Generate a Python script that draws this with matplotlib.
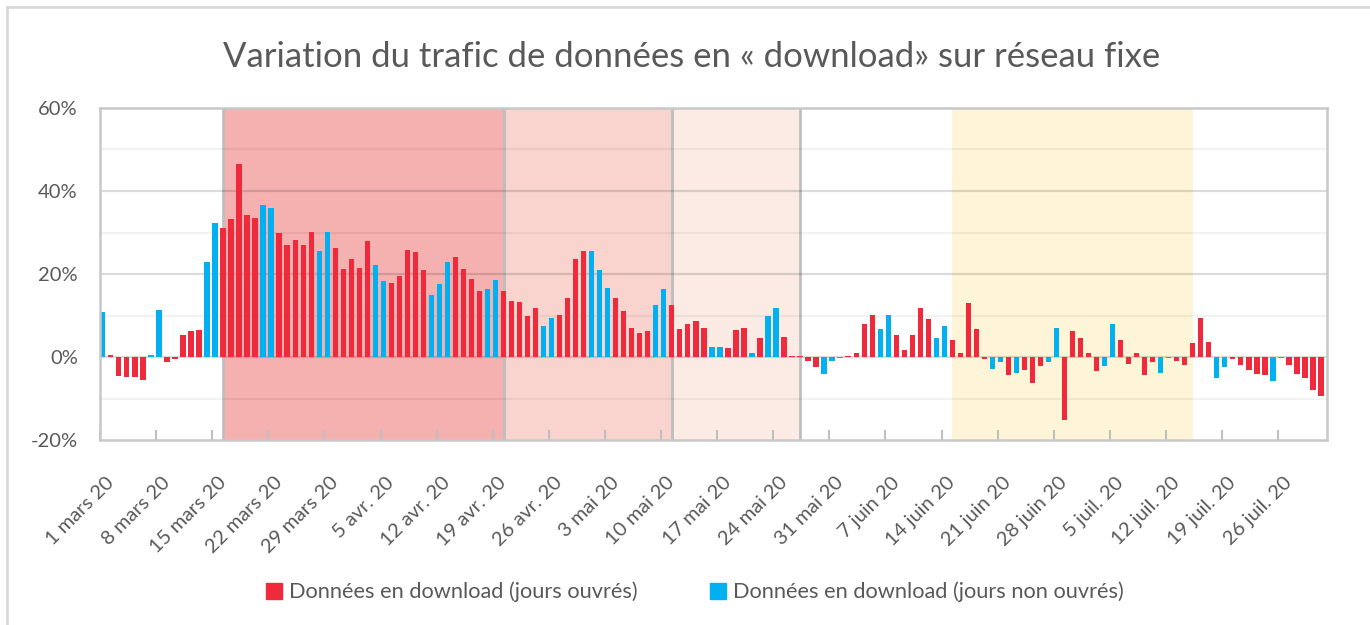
import matplotlib
matplotlib.use("Agg")
import matplotlib.pyplot as plt
import matplotlib.transforms as mtransforms
import numpy as np
import pandas as pd
from matplotlib.lines import Line2D

# ---------------- data ----------------
dates = pd.date_range("2020-03-01", "2020-07-31", freq="D")

values = [
    10.8, 0.6, -4.6, -4.9, -4.9, -5.5, 0.6, 11.4, -1.3, -0.6,
    5.4, 6.2, 6.5, 23.0, 32.3, 31.1, 33.3, 46.6, 34.2, 33.5,
    36.6, 36.0, 29.8, 27.0, 28.3, 27.0, 30.2, 25.5, 30.2, 26.2,
    21.2, 23.7, 21.5, 28.0, 22.2, 18.2, 17.8, 19.4, 25.8, 25.2,
    20.9, 15.0, 17.5, 23.0, 24.0, 21.2, 18.7, 16.0, 16.3, 18.5,
    16.0, 13.5, 13.2, 9.8, 11.7, 7.4, 9.5, 10.2, 14.2, 23.7,
    25.5, 25.5, 20.9, 16.6, 14.2, 11.0, 7.0, 5.8, 6.2, 12.6,
    16.3, 12.6, 6.7, 8.0, 8.6, 7.0, 2.5, 2.5, 2.2, 6.5,
    7.0, 0.9, 4.6, 9.8, 11.7, 4.9, 0.3, 0.2, -1.0, -2.5,
    -4.0, -1.0, -0.3, 0.3, 0.9, 8.0, 10.2, 6.7, 10.2, 5.2,
    1.8, 5.2, 11.7, 9.2, 4.6, 7.4, 4.0, 0.9, 12.9, 6.7,
    -0.6, -2.8, -1.3, -4.3, -3.8, -3.1, -6.2, -2.2, -1.3, 7.0,
    -15.1, 6.2, 4.6, 0.9, -3.4, -2.2, 8.0, 4.0, -1.6, 0.9,
    -4.3, -1.3, -3.8, -0.3, -1.0, -1.9, 3.4, 9.5, 3.7, -5.0,
    -2.5, -0.6, -1.9, -3.1, -4.0, -4.3, -5.9, -0.3, -1.9, -4.0,
    -5.0, -8.0, -9.5,
]

# 1 = jour non ouvré (bleu), 0 = jour ouvré (rouge)
non_working = [
    1, 0, 0, 0, 0, 0, 1, 1, 0, 0,
    0, 0, 0, 1, 1, 0, 0, 0, 0, 0,
    1, 1, 0, 0, 0, 0, 0, 1, 1, 0,
    0, 0, 0, 0, 1, 1, 0, 0, 0, 0,
    0, 1, 1, 1, 0, 0, 0, 0, 1, 1,
    0, 0, 0, 0, 0, 1, 1, 0, 0, 0,
    0, 1, 1, 1, 0, 0, 0, 0, 0, 1,
    1, 0, 0, 0, 0, 0, 1, 1, 0, 0,
    0, 1, 0, 1, 1, 0, 0, 0, 0, 0,
    1, 1, 1, 0, 0, 0, 0, 1, 1, 0,
    0, 0, 0, 0, 1, 1, 0, 0, 0, 0,
    0, 1, 1, 0, 1, 0, 0, 0, 1, 1,
    0, 0, 0, 0, 0, 1, 1, 0, 0, 0,
    0, 0, 1, 1, 0, 0, 0, 0, 0, 1,
    1, 0, 0, 0, 0, 0, 1, 1, 0, 0,
    0, 0, 0,
]

tick_labels = [
    "1 mars 20", "8 mars 20", "15 mars 20", "22 mars 20", "29 mars 20",
    "5 avr. 20", "12 avr. 20", "19 avr. 20", "26 avr. 20", "3 mai 20",
    "10 mai 20", "17 mai 20", "24 mai 20", "31 mai 20", "7 juin 20",
    "14 juin 20", "21 juin 20", "28 juin 20", "5 juil. 20", "12 juil. 20",
    "19 juil. 20", "26 juil. 20",
]

# périodes mises en évidence (début, fin)
zones = [
    ("2020-03-16", "2020-04-20"),
    ("2020-04-20", "2020-05-11"),
    ("2020-05-11", "2020-05-27"),
    ("2020-06-15", "2020-07-15"),
]
zone_colors = ["#F5B1B0", "#F9D4CE", "#FBEBE4", "#FEF4D8"]
zone_borders = [True, True, True, False]

y_ticks = [-20, 0, 20, 40, 60]
y_tick_labels = ["-20%", "0%", "20%", "40%", "60%"]

series_names = ["Données en download (jours ouvrés)",
                "Données en download (jours non ouvrés)"]
RED = "#EE2A3C"
BLUE = "#00B0F0"
TEXT = "#595959"

# ---------------- figure ----------------
plt.rcParams["font.family"] = ["Lato", "DejaVu Sans"]

fig = plt.figure(figsize=(13.7, 6.25), dpi=100)
ax = fig.add_axes([100 / 1370, 1 - 440 / 625, 1227 / 1370, 332 / 625])

x = np.arange(len(values))
vals = np.array(values)
nw = np.array(non_working, dtype=bool)

# shaded periods
start = dates[0]
for (d0, d1), col, border in zip(zones, zone_colors, zone_borders):
    i0 = (pd.Timestamp(d0) - start).days
    i1 = (pd.Timestamp(d1) - start).days
    ax.axvspan(i0, i1, color=col, zorder=0.5, lw=0)
    if border:
        ax.axvline(i0, color="#BFBFBF", lw=2, zorder=0.8)
        ax.axvline(i1, color="#BFBFBF", lw=2, zorder=0.8)

# gridlines
for g in range(-10, 61, 10):
    if g % 20 == 0:
        ax.axhline(g, color="black", alpha=0.14, lw=1.6, zorder=1)
    else:
        ax.axhline(g, color="black", alpha=0.05, lw=1.6, zorder=1)

w = 0.66
ax.bar(x[~nw], vals[~nw], width=w, color=RED, zorder=2, lw=0)
ax.bar(x[nw], vals[nw], width=w, color=BLUE, zorder=2, lw=0)

ax.set_xlim(-0.35, 152.75)
ax.set_ylim(-20, 60)

ax.set_yticks(y_ticks)
ax.set_yticklabels(y_tick_labels, color=TEXT, fontsize=14.5)
ax.tick_params(axis="y", length=0, pad=16)

tick_pos = np.arange(0, len(values), 7) - 0.35
ax.set_xticks(tick_pos)
ax.set_xticklabels(tick_labels, rotation=45, ha="right", va="center",
                   rotation_mode="anchor", color=TEXT, fontsize=14.5)
ax.tick_params(axis="x", direction="in", length=7, color="#BFBFBF",
               width=1.5, pad=20)
shift = mtransforms.ScaledTranslation(0.11, -0.12, fig.dpi_scale_trans)
for lab in ax.get_xticklabels():
    lab.set_transform(lab.get_transform() + shift)

for s in ax.spines.values():
    s.set_color("#C8C8C8")
    s.set_linewidth(1.8)

fig.suptitle("Variation du trafic de données en « download» sur réseau fixe",
             x=0.505, y=0.935, fontsize=25, color=TEXT)

handles = [Line2D([], [], marker="s", ls="", color=RED, markersize=11),
           Line2D([], [], marker="s", ls="", color=BLUE, markersize=11)]
leg = fig.legend(handles, series_names, loc="center", ncol=2,
                 bbox_to_anchor=(0.507, 1 - 592 / 625), frameon=False,
                 fontsize=15.7, handletextpad=0.3, columnspacing=3.3,
                 handlelength=0.8)
for t in leg.get_texts():
    t.set_color(TEXT)

# outer chart border (left / top visible)
fig.add_artist(Line2D([7 / 1370, 7 / 1370], [0, 1 - 7 / 625],
                      transform=fig.transFigure, color="#D9D9D9", lw=2))
fig.add_artist(Line2D([7 / 1370, 1], [1 - 7 / 625, 1 - 7 / 625],
                      transform=fig.transFigure, color="#D9D9D9", lw=2))

fig.savefig("out.png", dpi=100, facecolor="white")
